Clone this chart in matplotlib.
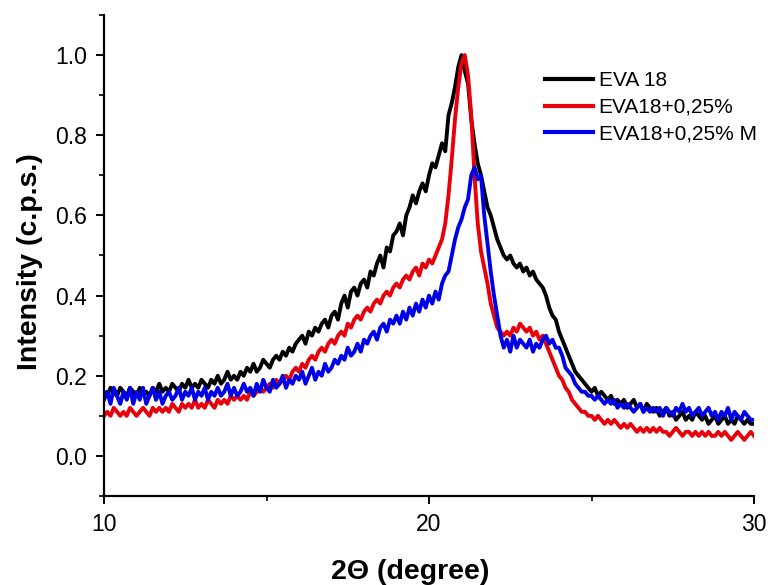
import numpy as np
import matplotlib
matplotlib.use("Agg")
import matplotlib.pyplot as plt
from matplotlib.ticker import MultipleLocator

plt.rcParams['font.family'] = ['Liberation Sans', 'DejaVu Sans']

two_theta = np.round(np.arange(10.0, 30.0001, 0.1), 1)

eva18 = [
    0.16,0.15,0.17,0.16,0.15,0.17,0.16,0.15,0.17,0.16,
    0.15,0.17,0.16,0.16,0.15,0.17,0.16,0.18,0.16,0.17,
    0.16,0.18,0.17,0.16,0.18,0.17,0.19,0.17,0.18,0.17,
    0.19,0.18,0.17,0.19,0.18,0.20,0.18,0.19,0.21,0.19,
    0.20,0.19,0.21,0.20,0.22,0.21,0.23,0.21,0.22,0.24,
    0.23,0.22,0.24,0.25,0.24,0.26,0.25,0.27,0.26,0.28,
    0.29,0.30,0.28,0.31,0.30,0.32,0.31,0.33,0.34,0.32,
    0.35,0.36,0.34,0.38,0.40,0.37,0.41,0.42,0.40,0.43,
    0.44,0.42,0.46,0.45,0.48,0.50,0.47,0.52,0.51,0.55,
    0.56,0.58,0.55,0.60,0.62,0.65,0.63,0.66,0.68,0.66,
    0.70,0.73,0.72,0.75,0.78,0.76,0.85,0.88,0.92,0.97,
    1.00,0.96,0.93,0.84,0.78,0.73,0.70,0.66,0.62,0.60,
    0.57,0.54,0.52,0.50,0.49,0.50,0.48,0.47,0.48,0.46,
    0.47,0.45,0.46,0.44,0.43,0.42,0.40,0.37,0.35,0.34,
    0.31,0.29,0.27,0.25,0.23,0.21,0.20,0.19,0.18,0.17,
    0.16,0.17,0.15,0.16,0.15,0.14,0.15,0.13,0.14,0.13,
    0.14,0.12,0.13,0.14,0.12,0.13,0.11,0.13,0.12,0.11,
    0.12,0.10,0.11,0.12,0.10,0.11,0.09,0.10,0.11,0.09,
    0.10,0.09,0.11,0.10,0.09,0.10,0.08,0.09,0.10,0.08,
    0.09,0.10,0.08,0.09,0.08,0.10,0.09,0.08,0.09,0.08,
    0.08,
]

eva18_025 = [
    0.10,0.11,0.10,0.12,0.11,0.10,0.11,0.10,0.12,0.11,
    0.10,0.11,0.12,0.11,0.10,0.12,0.11,0.12,0.11,0.12,
    0.11,0.13,0.12,0.11,0.13,0.12,0.13,0.12,0.14,0.12,
    0.13,0.12,0.14,0.13,0.12,0.14,0.13,0.14,0.13,0.15,
    0.14,0.15,0.14,0.15,0.14,0.16,0.15,0.16,0.17,0.16,
    0.17,0.18,0.17,0.19,0.18,0.19,0.20,0.19,0.21,0.22,
    0.21,0.23,0.22,0.24,0.25,0.24,0.26,0.27,0.26,0.28,
    0.29,0.28,0.30,0.31,0.30,0.33,0.32,0.34,0.35,0.34,
    0.36,0.37,0.36,0.38,0.39,0.38,0.40,0.41,0.40,0.42,
    0.43,0.42,0.44,0.45,0.44,0.46,0.47,0.45,0.48,0.47,
    0.49,0.48,0.50,0.52,0.54,0.58,0.65,0.74,0.84,0.92,
    0.98,1.00,0.95,0.85,0.70,0.58,0.51,0.47,0.43,0.38,
    0.35,0.32,0.31,0.30,0.31,0.30,0.32,0.31,0.33,0.32,
    0.31,0.32,0.30,0.31,0.29,0.30,0.28,0.26,0.24,0.22,
    0.20,0.19,0.17,0.16,0.14,0.13,0.12,0.11,0.11,0.10,
    0.10,0.09,0.10,0.09,0.08,0.09,0.08,0.09,0.08,0.07,
    0.08,0.07,0.08,0.07,0.06,0.07,0.06,0.07,0.06,0.07,
    0.06,0.07,0.06,0.06,0.05,0.06,0.07,0.06,0.05,0.06,
    0.06,0.05,0.06,0.05,0.06,0.05,0.06,0.05,0.05,0.06,
    0.05,0.06,0.05,0.04,0.05,0.06,0.05,0.04,0.05,0.06,
    0.05,
]

eva18_025_m = [
    0.14,0.16,0.13,0.17,0.15,0.13,0.16,0.14,0.17,0.13,
    0.16,0.14,0.17,0.13,0.15,0.17,0.14,0.16,0.13,0.15,
    0.16,0.14,0.15,0.17,0.14,0.16,0.15,0.17,0.14,0.16,
    0.15,0.17,0.14,0.16,0.15,0.17,0.15,0.16,0.18,0.15,
    0.17,0.15,0.16,0.18,0.16,0.17,0.15,0.18,0.16,0.19,
    0.17,0.16,0.19,0.17,0.18,0.20,0.17,0.19,0.18,0.20,
    0.19,0.21,0.18,0.20,0.22,0.19,0.21,0.20,0.23,0.21,
    0.22,0.24,0.23,0.25,0.24,0.27,0.25,0.26,0.28,0.26,
    0.29,0.28,0.30,0.31,0.29,0.32,0.33,0.31,0.34,0.33,
    0.35,0.33,0.36,0.34,0.37,0.35,0.38,0.36,0.39,0.37,
    0.40,0.38,0.41,0.39,0.43,0.45,0.46,0.50,0.54,0.57,
    0.59,0.62,0.64,0.70,0.72,0.69,0.70,0.60,0.53,0.46,
    0.40,0.35,0.30,0.27,0.29,0.26,0.30,0.27,0.29,0.28,
    0.27,0.29,0.26,0.28,0.27,0.29,0.30,0.28,0.29,0.27,
    0.27,0.25,0.22,0.21,0.20,0.18,0.17,0.16,0.16,0.15,
    0.15,0.14,0.15,0.14,0.13,0.14,0.13,0.14,0.12,0.13,
    0.12,0.13,0.12,0.11,0.12,0.13,0.11,0.12,0.11,0.12,
    0.11,0.12,0.10,0.12,0.11,0.10,0.12,0.11,0.13,0.11,
    0.12,0.10,0.11,0.12,0.10,0.11,0.12,0.10,0.11,0.09,
    0.11,0.10,0.12,0.09,0.11,0.10,0.09,0.11,0.10,0.09,
    0.09,
]

series_labels = ["EVA 18", "EVA18+0,25%", "EVA18+0,25% M"]
series_colors = ["#000000", "#e8000b", "#0000e6"]
x_ticks = [10, 20, 30]
y_ticks = [0.0, 0.2, 0.4, 0.6, 0.8, 1.0]

fig = plt.figure(figsize=(7.76, 5.85), dpi=100)
ax = fig.add_axes([104/776, 1 - 496/585, 650/776, 481/585])

for ys, lab, col in zip([eva18, eva18_025, eva18_025_m], series_labels, series_colors):
    ax.plot(two_theta, ys, color=col, lw=2.8, label=lab)

ax.set_xlim(10, 30)
ax.set_ylim(-0.1, 1.1)
ax.set_xticks(x_ticks)
ax.set_yticks(y_ticks)
ax.set_yticklabels([f"{v:.1f}" for v in y_ticks])
ax.xaxis.set_minor_locator(MultipleLocator(5))
ax.yaxis.set_minor_locator(MultipleLocator(0.1))

for s in ["top", "right"]:
    ax.spines[s].set_visible(False)
for s in ["left", "bottom"]:
    ax.spines[s].set_linewidth(1.6)

ax.tick_params(which="major", direction="out", length=6, width=1.4, labelsize=16.5, pad=6)
ax.tick_params(which="minor", direction="out", length=3.5, width=1.2)

leg = ax.legend(loc="upper left", bbox_to_anchor=(0.665, 0.90), frameon=False,
                fontsize=15, handlelength=2.3, handletextpad=0.3,
                labelspacing=0.36, borderaxespad=0)
for line in leg.get_lines():
    line.set_linewidth(3.0)

fig.text(30/776, 1 - 262/585, "Intensity (c.p.s.)", rotation=90, ha="center", va="center",
         fontsize=20.5, fontweight="bold")
fig.text(410/776, 1 - 572/585, "2\u0398 (degree)", ha="center", va="center",
         fontsize=20.5, fontweight="bold")

fig.savefig("out.png", dpi=100)
